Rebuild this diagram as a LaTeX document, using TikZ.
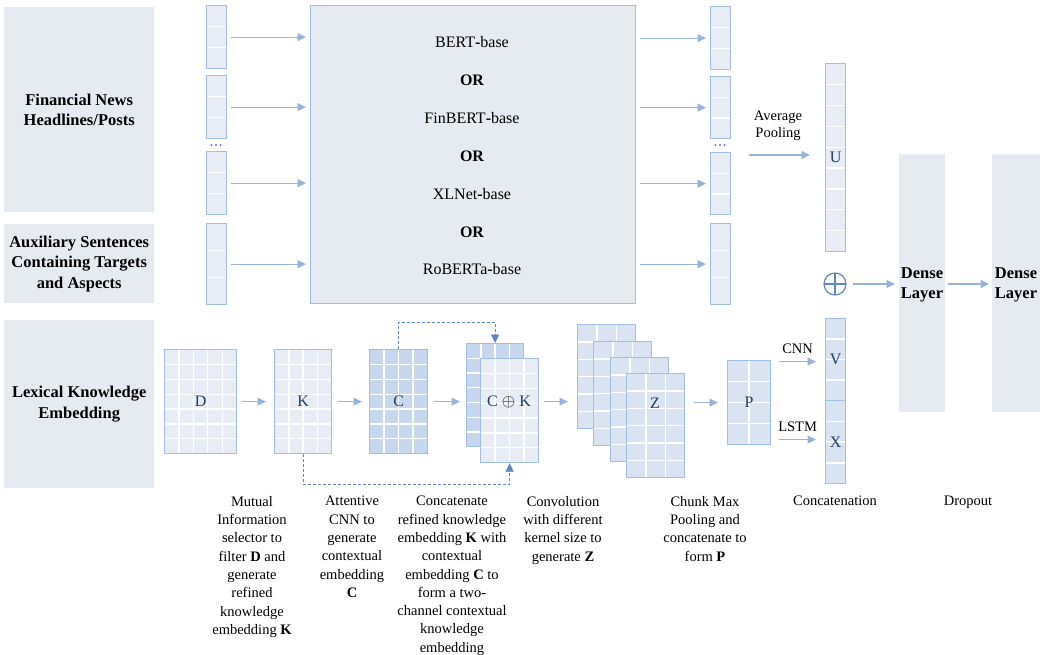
\documentclass[tikz,border=0pt]{standalone}
\usepackage{fontspec}
\setmainfont{Liberation Serif}
\usetikzlibrary{arrows.meta,calc}
\definecolor{panel}{HTML}{E6EAF1}
\definecolor{cellA}{HTML}{E8EDF5}
\definecolor{cellB}{HTML}{C7D8EE}
\definecolor{cellC}{HTML}{DAE3F1}
\definecolor{bord}{HTML}{9FBFE6}
\definecolor{arrc}{HTML}{97B4DA}
\definecolor{dashc}{HTML}{5B87C5}
\definecolor{navy}{HTML}{1F3A6B}
\definecolor{dotc}{HTML}{6A6AFF}
\tikzset{
  mat/.style={draw=bord, line width=1.2pt, inner sep=0pt, anchor=north west, fill=cellA},
  cells/.style 2 args={path picture={
    \pgfmathtruncatemacro\nc{#1-1}
    \pgfmathtruncatemacro\nr{#2-1}
    \coordinate (pa) at (path picture bounding box.north west);
    \coordinate (pb) at (path picture bounding box.south east);
    \ifnum\nc>0
      \foreach \i in {1,...,\nc}{\draw[white,line width=1.3pt] ($(pa)!\i/#1!(pa-|pb)$) -- ($(pb-|pa)!\i/#1!(pb)$);}
    \fi
    \ifnum\nr>0
      \foreach \j in {1,...,\nr}{\draw[white,line width=1.3pt] ($(pa)!\j/#2!(pb-|pa)$) -- ($(pa-|pb)!\j/#2!(pb)$);}
    \fi
  }},
  sz/.style 2 args={minimum width=#1pt, minimum height=#2pt},
  lbl/.style={text=navy, font=\fontsize{16}{19}\selectfont},
  arr/.style={draw=arrc, line width=1.1pt, -{Triangle[length=8.5pt,width=8pt]}},
  dsh/.style={draw=dashc, line width=0.9pt, dash pattern=on 3pt off 2pt, -{Triangle[length=8.5pt,width=8pt]}},
  panelbox/.style={fill=panel, inner sep=0pt, anchor=north west, align=center,
     font=\fontsize{16.5}{20.5}\selectfont\bfseries},
  boldtxt/.style={align=center, inner sep=0pt, font=\fontsize{16.5}{20.5}\selectfont\bfseries},
  model/.style={font=\fontsize{16}{19}\selectfont},
  ortext/.style={font=\fontsize{16}{19}\selectfont\bfseries},
  desc/.style={anchor=north, align=center, inner sep=0pt, font=\fontsize{14.5}{18.3}\selectfont},
  small/.style={font=\fontsize{14.5}{17}\selectfont, align=center, inner sep=0pt},
  dotsn/.style={inner sep=0pt, minimum width=14pt, minimum height=3pt,
     path picture={\foreach \q in {-4.5,0,4.5}{\fill[dotc] ([xshift=\q pt]path picture bounding box.center) circle (1.1pt);}}}
}
\begin{document}
\begin{tikzpicture}[x=1pt,y=-1pt]
\useasboundingbox (0,0) rectangle (1049,654);

% left panels
\node[panelbox, sz={150}{205}] (p1) at (4,7) {Financial News\\Headlines/Posts};
\node[panelbox, sz={150}{79}] (p2) at (4,224) {Auxiliary Sentences\\Containing Targets\\and Aspects};
\node[panelbox, sz={150}{168}] (p3) at (4,320) {Lexical Knowledge\\Embedding};

% input vectors
\node[mat, cells={1}{3}, sz={20}{63}] (iv1) at (206,5) {};
\node[mat, cells={1}{3}, sz={20}{63}] (iv2) at (206,75) {};
\node[mat, cells={1}{3}, sz={20}{63}] (iv3) at (206,151) {};
\node[mat, cells={1}{3}, sz={20}{81}] (iv4) at (206,223) {};
\node[dotsn] (dl) at (216,145) {};

% big model box
\node[draw=bord, line width=1.2pt, fill=panel, inner sep=0pt, anchor=north west, sz={325}{298}] (bb) at (310,5) {};
\node[model] (m1) at (472,42) {BERT\textbf{-}base};
\node[ortext] (o1) at (472,80) {OR};
\node[model] (m2) at (472,118) {FinBERT\textbf{-}base};
\node[ortext] (o2) at (472,156) {OR};
\node[model] (m3) at (472,194) {XLNet\textbf{-}base};
\node[ortext] (o3) at (472,232) {OR};
\node[model] (m4) at (472,269) {RoBERTa\textbf{-}base};

% output vectors
\node[mat, cells={1}{3}, sz={20}{63}] (ov1) at (710,6) {};
\node[mat, cells={1}{3}, sz={20}{62}] (ov2) at (710,76) {};
\node[mat, cells={1}{3}, sz={20}{62}] (ov3) at (710,152) {};
\node[mat, cells={1}{3}, sz={20}{81}] (ov4) at (710,223) {};
\node[dotsn] (dr) at (720,145) {};

\foreach \k in {1,2,3,4}{
  \draw[arr] ([xshift=4pt]iv\k.east) -- ([xshift=-4pt]iv\k.east -| bb.west);
  \draw[arr] ([xshift=4pt]bb.east |- ov\k.west) -- ([xshift=-4pt]ov\k.west);
}

% average pooling and U
\node[small] (apl) at (778,126) {Average\\Pooling};
\node[mat, cells={1}{9}, sz={20}{188}] (U) at (825,63) {};
\node[lbl] at (U.center) {U};
\coordinate (ap) at (749,155);
\draw[arr] (ap) -- ([xshift=-15pt]U.west |- ap);

% concat circle
\node[circle, draw=dashc, line width=1.2pt, minimum size=22pt, inner sep=0pt,
  path picture={\draw[dashc, line width=1.2pt] (path picture bounding box.north) -- (path picture bounding box.south)
  (path picture bounding box.west) -- (path picture bounding box.east);}] (op) at (835,284) {};

% dense layers
\node[fill=panel, inner sep=0pt, anchor=north west, sz={46}{258}] (d1) at (899,154) {};
\node[boldtxt] (d1t) at (922,285) {Dense\\Layer};
\node[fill=panel, inner sep=0pt, anchor=north west, sz={48}{258}] (d2) at (992,154) {};
\node[boldtxt] (d2t) at (1016,285) {Dense\\Layer};
\draw[arr] ([xshift=6pt]op.east) -- ([xshift=-4pt]op.east -| d1.west);
\draw[arr] ([xshift=3pt]d1.east |- op.east) -- ([xshift=-3pt]d2.west |- op.east);

% bottom row
\node[mat, cells={5}{7}, sz={72}{104}] (D) at (164,349) {};
\node[lbl] at (D.center) {D};
\node[mat, cells={4}{7}, sz={57}{104}] (K) at (274,349) {};
\node[lbl] at (K.center) {K};
\node[mat, cells={4}{7}, sz={58}{104}, fill=cellB] (C) at (369,349) {};
\node[lbl] at (C.center) {C};
\node[mat, cells={4}{7}, sz={57}{103}, fill=cellB] (CKb) at (466,343) {};
\node[mat, cells={4}{7}, sz={58}{104}] (CKf) at (480,358) {};
\node[lbl] at (509,402) {C \textcolor{black}{$\oplus$} K};

\draw[arr] ([xshift=5pt]D.east) -- ([xshift=-8pt]K.west);
\draw[arr] ([xshift=6pt]K.east) -- ([xshift=-7pt]C.west);
\draw[arr] ([xshift=6pt]C.east) -- ([xshift=-6pt]CKb.west |- C.east);
\draw[dsh] (C.north) -- ++(0,-27) -| (CKb.north);
\draw[dsh] (K.south) -- ++(0,30) -| (CKf.south);

\node[mat, cells={3}{6}, sz={58}{104}, fill=cellC] (Z1) at (577,324) {};
\node[mat, cells={3}{6}, sz={58}{104}, fill=cellC] (Z2) at (593,341) {};
\node[mat, cells={3}{6}, sz={58}{104}, fill=cellC] (Z3) at (610,357) {};
\node[mat, cells={3}{6}, sz={58}{104}, fill=cellC] (Z4) at (626,373) {};
\node[lbl] at (655,403) {Z};
\draw[arr] ([xshift=5pt]CKf.east |- C.east) -- ([xshift=-9pt]Z1.west |- C.east);

\node[mat, cells={2}{4}, sz={43}{84}, fill=cellC] (P) at (727,360) {};
\node[lbl] at (P.center) {P};
\draw[arr] ([xshift=9pt]Z4.east |- P.west) -- ([xshift=-9pt]P.west);

\node[mat, cells={1}{4}, sz={20}{82}, fill=cellC] (V) at (825,318) {};
\node[lbl] at (V.center) {V};
\node[mat, cells={1}{4}, sz={20}{83}, fill=cellC] (X) at (825,400) {};
\node[lbl] at (X.center) {X};
\draw[arr] ([xshift=8pt,yshift=-2pt]P.east |- V.west) -- node[small, above=7pt] {CNN} ([xshift=-9pt,yshift=-2pt]V.west);
\draw[arr] ([xshift=8pt,yshift=2.5pt]P.east |- X.west) -- node[small, above=7pt] {LSTM} ([xshift=-9pt,yshift=2.5pt]X.west);

% descriptions
\node[desc] (t1) at (252,496) {Mutual\\Information\\selector to\\filter \textbf{D} and\\generate\\refined\\knowledge\\embedding \textbf{K}};
\node[desc] (t2) at (352,496) {Attentive\\CNN to\\generate\\contextual\\embedding\\\textbf{C}};
\node[desc] (t3) at (452,496) {Concatenate\\refined knowledge\\embedding \textbf{K} with\\contextual\\embedding \textbf{C} to\\form a two\textbf{-}\\channel contextual\\knowledge\\embedding};
\node[desc] (t4) at (563,496) {Convolution\\with different\\kernel size to\\generate \textbf{Z}};
\node[desc] (t5) at (705,496) {Chunk Max\\Pooling and\\concatenate to\\form \textbf{P}};
\node[desc] (t6) at (835,496) {Concatenation};
\node[desc] (t7) at (968,496) {Dropout};
\end{tikzpicture}
\end{document}
